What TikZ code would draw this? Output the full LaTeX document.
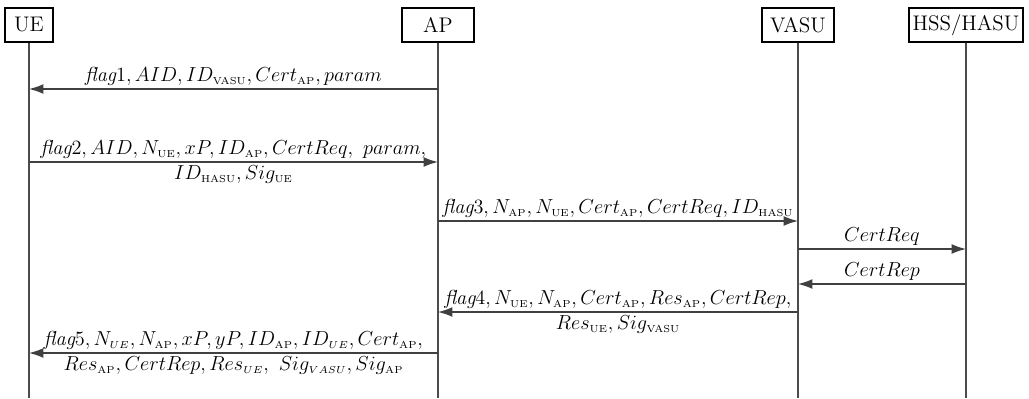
\documentclass[tikz,border=0pt]{standalone}
\usetikzlibrary{arrows.meta}

\newcommand{\rs}[1]{_{\scriptscriptstyle\mathrm{#1}}}
\newcommand{\is}[1]{_{\scriptscriptstyle #1}}

\tikzset{
	party/.style={draw, line width=0.7pt, minimum height=19.3pt, inner sep=2pt, font=\fontsize{12}{14}\selectfont},
	life/.style={draw=black!70, line width=0.75pt},
	msg/.style={draw=black!75, line width=0.75pt, -{Latex[length=8.2pt,width=5.6pt]}},
	lbl/.style={font=\fontsize{12}{14}\selectfont, inner sep=1.8pt, scale=0.96, transform shape}
}

\begin{document}
\begin{tikzpicture}[x=0.568pt,y=-0.568pt]
	\useasboundingbox (0,0) rectangle (1029,398);
	% parties
	\node[party, minimum width=27.3pt] (ue) at (29,25) {UE};
	\node[party, minimum width=40.9pt] (ap) at (438,25) {AP};
	\node[party, minimum width=41pt] (vasu) at (798,25) {VASU};
	\node[party, minimum width=64.2pt] (hss) at (966,25) {HSS/HASU};
	% lifelines
	\foreach \p in {ue,ap,vasu,hss} {
		\coordinate (\p end) at (\p |- 0,398);
		\draw[life] (\p) -- (\p end);
	}
	% message end points
	\coordinate (m1s) at (ap |- 0,89);   \coordinate (m1e) at (ue |- 0,89);
	\coordinate (m2s) at (ue |- 0,162);  \coordinate (m2e) at (ap |- 0,162);
	\coordinate (m3s) at (ap |- 0,221);  \coordinate (m3e) at (vasu |- 0,221);
	\coordinate (m4s) at (vasu |- 0,249); \coordinate (m4e) at (hss |- 0,249);
	\coordinate (m5s) at (hss |- 0,284);  \coordinate (m5e) at (vasu |- 0,284);
	\coordinate (m6s) at (vasu |- 0,312); \coordinate (m6e) at (ap |- 0,312);
	\coordinate (m7s) at (ap |- 0,353);  \coordinate (m7e) at (ue |- 0,353);
	% messages
	\draw[msg] (m1s) -- node[lbl, above] {$\textit{flag}1, AID, ID\rs{VASU}, Cert\rs{AP}, param$} (m1e);
	\draw[msg] (m2s) -- node[lbl, above] {$\textit{flag}2, AID, N\rs{UE}, xP, ID\rs{AP}, CertReq,\ param,$}
		node[lbl, below] {$ID\rs{HASU}, Sig\rs{UE}$} (m2e);
	\draw[msg] (m3s) -- node[lbl, above] {$\textit{flag}3, N\rs{AP}, N\rs{UE}, Cert\rs{AP}, CertReq, ID\rs{HASU}$} (m3e);
	\draw[msg] (m4s) -- node[lbl, above] {$CertReq$} (m4e);
	\draw[msg] (m5s) -- node[lbl, above] {$CertRep$} (m5e);
	\draw[msg] (m6s) -- node[lbl, above] {$\textit{flag}4, N\rs{UE}, N\rs{AP}, Cert\rs{AP}, Res\rs{AP}, CertRep,$}
		node[lbl, below] {$Res\rs{UE}, Sig\rs{VASU}$} (m6e);
	\draw[msg] (m7s) -- node[lbl, above] {$\textit{flag}5, N\is{UE}, N\rs{AP}, xP, yP, ID\rs{AP}, ID\is{UE}, Cert\rs{AP},$}
		node[lbl, below] {$Res\rs{AP}, CertRep, Res\is{UE},\ Sig\is{VASU}, Sig\rs{AP}$} (m7e);
\end{tikzpicture}
\end{document}
